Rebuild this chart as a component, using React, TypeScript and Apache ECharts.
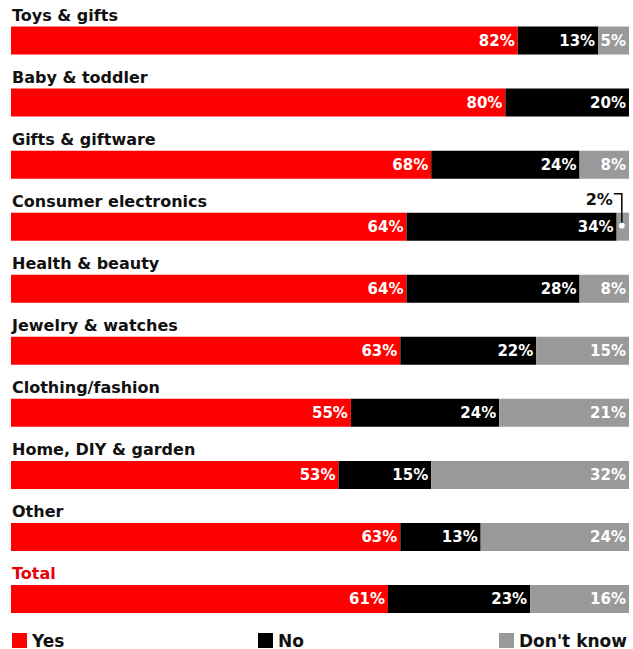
import React, { useEffect, useRef } from "react";
import * as echarts from "echarts";

const categories = [
  "Toys & gifts",
  "Baby & toddler",
  "Gifts & giftware",
  "Consumer electronics",
  "Health & beauty",
  "Jewelry & watches",
  "Clothing/fashion",
  "Home, DIY & garden",
  "Other",
  "Total",
];
const yesValues = [82, 80, 68, 64, 64, 63, 55, 53, 63, 61];
const noValues = [13, 20, 24, 34, 28, 22, 24, 15, 13, 23];
const dontKnowValues = [5, 0, 8, 2, 8, 15, 21, 32, 24, 16];
const seriesNames = ["Yes", "No", "Don't know"];
const seriesColors = ["#ff0000", "#000000", "#999999"];

const FONT = "'DejaVu Sans', 'Liberation Sans', sans-serif";

export default function App() {
  const ref = useRef<HTMLDivElement>(null);
  useEffect(() => {
    if (!ref.current) return;
    const chart = echarts.init(ref.current, undefined, { renderer: "svg" });
    const valueLabel = {
      show: true,
      position: "insideRight",
      distance: 3,
      color: "#ffffff",
      fontFamily: FONT,
      fontWeight: 700,
      fontSize: 15,
      formatter: (p: any) =>
        p.value === 0 || (p.seriesIndex === 2 && p.value < 3) ? "" : p.value + "%",
    };
    const allValues = [yesValues, noValues, dontKnowValues];
    const option: any = {
      animation: false,
      grid: { left: 11, right: 4, top: 9.5, bottom: 19, containLabel: false },
      xAxis: { type: "value", min: 0, max: 100, show: false },
      yAxis: {
        type: "category",
        data: categories,
        inverse: true,
        axisLine: { show: false },
        axisTick: { show: false },
        axisLabel: {
          inside: true,
          margin: 1,
          align: "left",
          verticalAlign: "bottom",
          padding: [0, 0, 17, 0],
          fontFamily: FONT,
          fontWeight: 700,
          fontSize: 16,
          color: (v: string) => (v === "Total" ? "#e8000d" : "#111111"),
        },
      },
      legend: seriesNames.map((n, i) => ({
        data: [n],
        left: [12, 258, 499][i],
        top: 632,
        padding: 0,
        icon: "rect",
        itemWidth: 15,
        itemHeight: 15,
        itemGap: 6,
        selectedMode: false,
        textStyle: { fontFamily: FONT, fontWeight: 700, fontSize: 17, lineHeight: 16, color: "#111111" },
      })),
      series: seriesNames.map((n, i) => ({
        name: n,
        type: "bar",
        stack: "total",
        barWidth: 28,
        data: allValues[i],
        itemStyle: { color: seriesColors[i] },
        label: valueLabel,
      })),
    };
    chart.setOption(option);
    const ci = categories.indexOf("Consumer electronics");
    const x = yesValues[ci] + noValues[ci] + dontKnowValues[ci] / 2;
    const p = chart.convertToPixel({ gridIndex: 0 }, [x, categories[ci]]) as number[];
    chart.setOption({
      graphic: [
        {
          type: "polyline",
          shape: { points: [[p[0] - 9, p[1] - 33], [p[0] - 1, p[1] - 33], [p[0] - 1, p[1] - 2]] },
          style: { stroke: "#000", lineWidth: 1.5, fill: null },
          z: 10,
        },
        {
          type: "circle",
          shape: { cx: p[0] - 1, cy: p[1] - 1, r: 3 },
          style: { fill: "#ffffff" },
          z: 11,
        },
        {
          type: "text",
          x: p[0] - 10,
          y: p[1] - 27,
          style: {
            text: dontKnowValues[ci] + "%",
            align: "right",
            verticalAlign: "middle",
            fontFamily: FONT,
            fontWeight: 700,
            fontSize: 16,
            fill: "#111111",
          },
          z: 10,
        },
      ],
    });
    return () => chart.dispose();
  }, []);
  return <div ref={ref} style={{ width: 633, height: 649, position: "absolute", left: 0, top: 0 }} />;
}
